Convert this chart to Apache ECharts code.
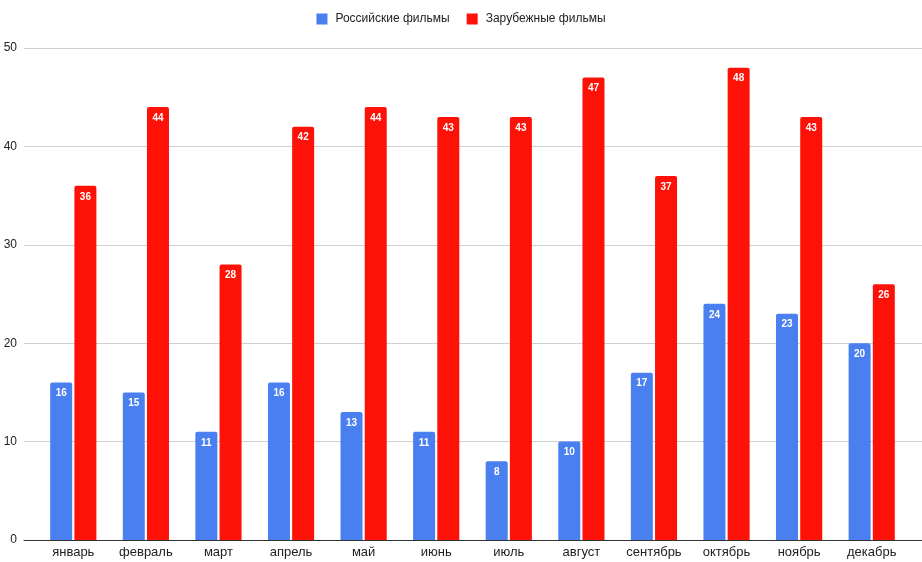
<!DOCTYPE html>
<html><head><meta charset="utf-8">
<script src="https://cdn.jsdelivr.net/npm/echarts@6/dist/echarts.min.js"></script>
<style>html,body{margin:0;padding:0;background:#fff}#c{width:922px;height:562px}</style>
</head><body><div id="c"></div>
<script>
const months = ['январь','февраль','март','апрель','май','июнь','июль','август','сентябрь','октябрь','ноябрь','декабрь'];
const russian = [16,15,11,16,13,11,8,10,17,24,23,20];
const foreign = [36,44,28,42,44,43,43,47,37,48,43,26];
const seriesNames = ['Российские фильмы','Зарубежные фильмы'];
const yTicks = {min:0, max:50, interval:10};
const font = 'Liberation Sans, Arial, sans-serif';
const chart = echarts.init(document.getElementById('c'));
const lbl = {show:true, position:'insideTop', color:'#fff', fontWeight:'bold', fontSize:10, fontFamily:font, distance:6};
chart.setOption({
  animation:false,
  textStyle:{fontFamily:font},
  legend:{top:8, left:'center', itemWidth:11, itemHeight:11, itemGap:17, icon:'rect',
    textStyle:{fontSize:12, color:'#222', fontFamily:font, padding:[0,0,0,3]}, data:seriesNames},
  grid:[
    {left:37, right:14, top:48, bottom:22},
    {left:24, right:0, top:48, bottom:22}
  ],
  xAxis:[
    {type:'category', data:months, gridIndex:0, axisTick:{show:false},
     axisLine:{show:false},
     axisLabel:{color:'#222', fontSize:13, margin:6, fontFamily:font}},
    {type:'category', data:[''], gridIndex:1, axisTick:{show:false},
     axisLabel:{show:false}, axisLine:{show:true, lineStyle:{color:'#333', width:1}}}
  ],
  yAxis:[
    {type:'value', gridIndex:0, min:yTicks.min, max:yTicks.max, interval:yTicks.interval,
     axisLabel:{show:false}, splitLine:{show:false}, axisLine:{show:false}},
    {type:'value', gridIndex:1, min:yTicks.min, max:yTicks.max, interval:yTicks.interval,
     axisLabel:{color:'#222', fontSize:12, margin:7, fontFamily:font},
     splitLine:{lineStyle:{color:'#d0d0d0'}}, axisLine:{show:false}, axisTick:{show:false}}
  ],
  series:[
    {name:seriesNames[0], type:'bar', xAxisIndex:0, yAxisIndex:0, data:russian, barWidth:22, barGap:'10%',
     itemStyle:{color:'#4a7ff0', borderRadius:[2,2,0,0]}, label:lbl, z:3},
    {name:seriesNames[1], type:'bar', xAxisIndex:0, yAxisIndex:0, data:foreign, barWidth:22, barGap:'10%',
     itemStyle:{color:'#fe1207', borderRadius:[2,2,0,0]}, label:lbl, z:3}
  ]
});
</script></body></html>
